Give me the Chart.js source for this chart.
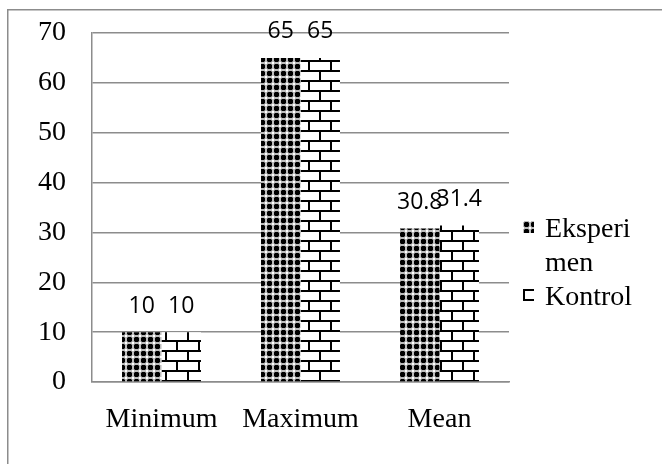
<!DOCTYPE html>
<html><head><meta charset="utf-8">
<script src="https://cdn.jsdelivr.net/npm/chart.js@4.4.1/dist/chart.umd.min.js"></script>
<style>html,body{margin:0;padding:0;background:#fff;overflow:hidden}#wrap{width:662px;height:464px;position:relative}</style>
</head><body><div id="wrap"><canvas id="c" width="662" height="464"></canvas></div>
<script>
const categories = ['Minimum', 'Maximum', 'Mean'];
const eksperimen = [10, 65, 30.8];
const kontrol = [10, 65, 31.4];
const seriesNames = ['Eksperimen', 'Kontrol'];
const legendLines = [['Eksperi', 'men'], ['Kontrol']];
const yTicks = [0, 10, 20, 30, 40, 50, 60, 70];

const SERIF = '"Liberation Serif","Times New Roman",serif';
const SANS = '"Open Sans","Liberation Sans",sans-serif';
const GRID = '#8c8c8c';
const FS = 28;

function makeCheckPattern() {
  const c = document.createElement('canvas');
  c.width = 7; c.height = 7;
  const g = c.getContext('2d');
  g.fillStyle = '#bdbdbd'; g.fillRect(0, 0, 7, 7);
  g.fillStyle = '#ffffff';
  g.fillRect(0, 0, 1, 1); g.fillRect(6, 0, 1, 1);
  g.fillRect(0, 6, 1, 1); g.fillRect(6, 6, 1, 1);
  g.fillStyle = '#6a6a6a';
  g.fillRect(1, 1, 5, 5);
  g.fillStyle = '#000';
  g.fillRect(2, 1, 3, 5);
  g.fillRect(1, 2, 5, 3);
  return g.createPattern(c, 'repeat');
}
function makeBrickPattern() {
  const c = document.createElement('canvas');
  c.width = 22; c.height = 20;
  const g = c.getContext('2d');
  g.fillStyle = '#fff'; g.fillRect(0, 0, 22, 20);
  g.fillStyle = '#000';
  g.fillRect(0, 0, 22, 2);
  g.fillRect(0, 10, 22, 2);
  g.fillRect(0, 2, 2, 8);
  g.fillRect(11, 12, 2, 8);
  return g.createPattern(c, 'repeat');
}
const patE = makeCheckPattern();
const patK = makeBrickPattern();
const patterns = [patE, patK];

const framePlugin = {
  id: 'frame',
  beforeDraw(chart) {
    const ctx = chart.ctx;
    ctx.save();
    ctx.fillStyle = '#fff';
    ctx.fillRect(0, 0, chart.width, chart.height);
    ctx.strokeStyle = GRID;
    ctx.lineWidth = 1.5;
    ctx.beginPath();
    ctx.moveTo(7.75, chart.height);
    ctx.lineTo(7.75, 9.75);
    ctx.lineTo(chart.width, 9.75);
    ctx.stroke();
    ctx.restore();
  }
};

const labelPlugin = {
  id: 'vals',
  afterDatasetsDraw(chart) {
    const ctx = chart.ctx;
    ctx.save();
    ctx.font = '23px ' + SANS;
    ctx.fillStyle = '#000';
    ctx.textAlign = 'center';
    ctx.textBaseline = 'middle';
    chart.data.datasets.forEach((ds, i) => {
      chart.getDatasetMeta(i).data.forEach((el, j) => {
        ctx.fillText(String(ds.data[j]), el.x, el.y - 26);
      });
    });
    ctx.restore();
  }
};

const legendPlugin = {
  id: 'sideLegend',
  afterDraw(chart) {
    const ctx = chart.ctx;
    const x0 = chart.chartArea.right + 14;
    const tx = x0 + 22;
    let base = 237;
    ctx.save();
    ctx.font = FS + 'px ' + SERIF;
    ctx.fillStyle = '#000';
    ctx.textBaseline = 'alphabetic';
    ctx.textAlign = 'left';
    legendLines.forEach((lines, i) => {
      ctx.save();
      ctx.translate(x0, base - 16);
      ctx.fillStyle = patterns[i];
      ctx.fillRect(0, 0, 11, 12);
      ctx.restore();
      lines.forEach((ln) => {
        ctx.fillText(ln, tx, base);
        base += 34;
      });
    });
    ctx.restore();
  }
};

new Chart(document.getElementById('c'), {
  type: 'bar',
  data: {
    labels: categories,
    datasets: [
      { label: seriesNames[0], data: eksperimen, backgroundColor: patE, borderWidth: 0 },
      { label: seriesNames[1], data: kontrol, backgroundColor: patK, borderWidth: 0 }
    ]
  },
  options: {
    responsive: false,
    animation: false,
    devicePixelRatio: 1,
    categoryPercentage: 0.568,
    barPercentage: 1,
    layout: { padding: { left: 0, top: 33, right: 153, bottom: 0 } },
    plugins: { legend: { display: false }, tooltip: { enabled: false } },
    scales: {
      x: {
        grid: { display: false, drawTicks: false },
        border: { display: true, color: GRID, width: 1.5 },
        ticks: { font: { family: SERIF, size: FS }, color: '#000', padding: 21 },
        afterFit(s) { s.height = 82; }
      },
      y: {
        min: yTicks[0],
        max: yTicks[yTicks.length - 1],
        grid: { color: GRID, lineWidth: 1.5, drawTicks: false },
        border: { display: true, color: GRID, width: 1.5 },
        ticks: { stepSize: yTicks[1] - yTicks[0], font: { family: SERIF, size: FS }, color: '#000', padding: 26 },
        afterFit(s) { s.width = 92; s.paddingTop = 0; s.paddingBottom = 0; }
      }
    }
  },
  plugins: [framePlugin, labelPlugin, legendPlugin]
});
</script></body></html>
